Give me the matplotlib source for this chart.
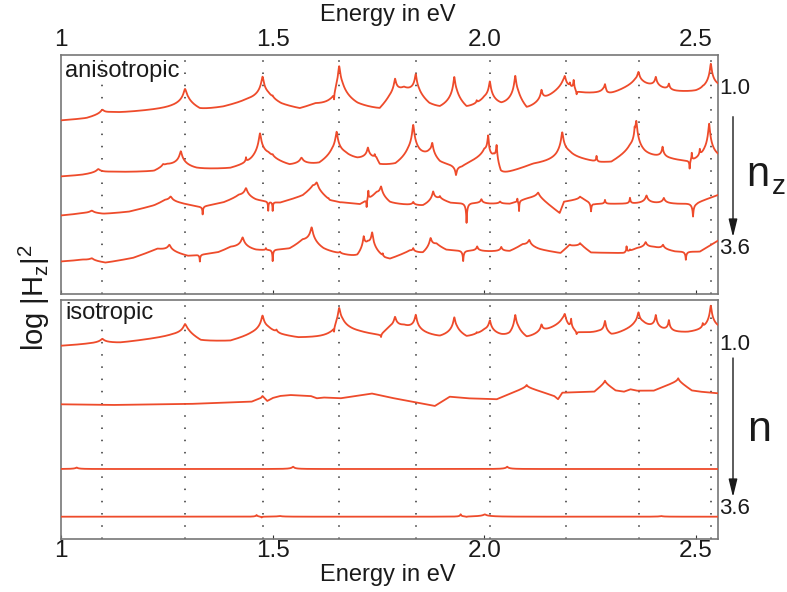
import numpy as np
import matplotlib
matplotlib.use("Agg")
import matplotlib.pyplot as plt
from matplotlib.patches import FancyArrowPatch

# ---------------------------------------------------------------------------
# Data: photon energy axis, guided-mode energies, and the four spectra of each
# panel.  Each spectrum = slowly varying background (anchor points, arbitrary
# log units incl. vertical offset) + resonances (energy, apex level, width).
# ---------------------------------------------------------------------------
E_MIN, E_MAX = 1.0, 2.552
TICK_E = [1.0, 1.5, 2.0, 2.5]
TICK_LABELS = ["1", "1.5", "2.0", "2.5"]

GUIDED_MODES = [1.0975, 1.293, 1.476, 1.656, 1.839, 2.013, 2.192, 2.365, 2.5365]

# --- anisotropic, n_z = 1.0 ... 3.6 -------------------------------------------
ANISO_1_BASE = [(1.00, 173.3), (1.06, 175), (1.116, 180), (1.262, 185), (1.30, 186),
                (1.328, 182.3), (1.383, 186), (1.44, 192), (1.49, 193), (1.52, 188),
                (1.564, 184), (1.60, 188), (1.64, 186), (1.665, 193), (1.70, 187.3),
                (1.753, 183), (1.775, 192), (1.81, 201), (1.845, 195), (1.87, 187.3),
                (1.895, 184), (1.935, 190), (1.958, 183.3), (2.00, 190), (2.04, 185.7),
                (2.08, 190), (2.10, 182.3), (2.14, 192), (2.185, 205), (2.20, 202),
                (2.22, 200), (2.28, 200), (2.29, 197.3), (2.355, 209), (2.375, 208),
                (2.41, 205), (2.44, 202), (2.50, 201.3), (2.552, 204.7)]
ANISO_1_RES = [(1.0975, 184, 0.05), (1.293, 204.7, 0.05), (1.476, 216.7, 0.04),
               (1.500, 193, 0.01), (1.645, 180, 0.004), (1.657, 227.3, 0.04),
               (1.789, 213.3, 0.03), (1.838, 218, 0.03), (1.929, 215.7, 0.03),
               (1.982, 189.5, 0.005), (2.013, 210.7, 0.03), (2.073, 216.7, 0.03),
               (2.135, 202.3, 0.02), (2.190, 216.7, 0.03), (2.202, 206, 0.008),
               (2.211, 211, 0.008), (2.218, 196, 0.005), (2.285, 209, 0.02),
               (2.364, 221.3, 0.03), (2.405, 215.7, 0.02), (2.436, 209, 0.015),
               (2.516, 203, 0.006), (2.535, 230, 0.03)]

ANISO_2_BASE = [(1.00, 117.3), (1.05, 118.5), (1.12, 121.3), (1.22, 122), (1.25, 127),
                (1.32, 124), (1.40, 124.5), (1.45, 129), (1.49, 134), (1.54, 126.7),
                (1.61, 128), (1.64, 135), (1.67, 136), (1.70, 133), (1.745, 133),
                (1.753, 127.3), (1.79, 127.3), (1.82, 134), (1.848, 134), (1.87, 135),
                (1.895, 129), (1.947, 127.3), (2.00, 137.3), (2.012, 129), (2.022, 130),
                (2.039, 118), (2.06, 121), (2.115, 129), (2.17, 132.3), (2.20, 136),
                (2.27, 130.7), (2.30, 130.7), (2.344, 141), (2.38, 137.3), (2.44, 134),
                (2.485, 130.7), (2.52, 134), (2.552, 134)]
ANISO_2_RES = [(1.088, 124.7, 0.05), (1.241, 128, 0.02), (1.283, 142.3, 0.04),
               (1.437, 132.3, 0.005), (1.470, 160, 0.04), (1.500, 134.5, 0.015),
               (1.568, 134.7, 0.04), (1.651, 161.3, 0.035), (1.725, 144.7, 0.025),
               (1.741, 136, 0.006), (1.832, 168, 0.035), (1.877, 148.3, 0.025),
               (1.933, 117.3, 0.015), (2.009, 156.7, 0.02), (2.029, 145.7, 0.015),
               (2.184, 161.3, 0.035), (2.265, 136.7, 0.005), (2.355, 147.3, 0.006),
               (2.359, 171.3, 0.03), (2.421, 145.7, 0.015), (2.485, 122.3, 0.004),
               (2.490, 139, 0.004), (2.509, 139, 0.005), (2.531, 170, 0.03)]

ANISO_3_BASE = [(1.00, 78.3), (1.05, 80), (1.10, 79.5), (1.16, 82), (1.22, 88),
                (1.245, 92), (1.28, 90), (1.33, 86.7), (1.383, 90.7), (1.42, 96),
                (1.46, 92.3), (1.517, 90.7), (1.571, 97.3), (1.595, 104), (1.635, 92.3),
                (1.706, 89), (1.745, 98), (1.777, 90), (1.855, 87.3), (1.895, 94),
                (1.92, 90.7), (1.97, 90.7), (2.013, 90), (2.06, 90), (2.10, 95),
                (2.127, 97), (2.178, 80.7), (2.188, 92), (2.23, 95), (2.26, 90),
                (2.36, 90), (2.46, 90), (2.50, 91), (2.552, 99)]
ANISO_3_RES = [(1.0725, 83.3, 0.05), (1.259, 97.3, 0.04), (1.3346, 79, 0.004),
               (1.437, 105.7, 0.04), (1.4895, 82.3, 0.003), (1.500, 82.3, 0.003),
               (1.604, 111.3, 0.04), (1.632, 94, 0.004), (1.659, 90.7, 0.01),
               (1.722, 84.7, 0.003), (1.726, 102.3, 0.004), (1.756, 107.3, 0.03),
               (1.832, 91.3, 0.015), (1.879, 102.3, 0.025), (1.895, 95.7, 0.008),
               (1.958, 70.7, 0.006), (1.993, 94.7, 0.015), (2.037, 92.3, 0.015),
               (2.078, 95.7, 0.003), (2.082, 82.3, 0.003), (2.127, 101.3, 0.03),
               (2.226, 97.3, 0.02), (2.252, 82.3, 0.006), (2.285, 94, 0.006),
               (2.344, 95.7, 0.006), (2.383, 98.3, 0.025), (2.424, 95.7, 0.02),
               (2.493, 77.3, 0.008)]

ANISO_4_BASE = [(1.00, 32.3), (1.05, 33.5), (1.105, 30.7), (1.17, 35.7), (1.227, 44),
                (1.30, 37.3), (1.37, 40.7), (1.40, 45), (1.46, 42.3), (1.54, 44),
                (1.57, 50), (1.62, 42.3), (1.70, 35.7), (1.725, 44), (1.765, 34.7),
                (1.777, 34), (1.824, 42.3), (1.855, 39), (1.887, 47.3), (1.91, 43.3),
                (2.013, 42.3), (2.06, 42.3), (2.09, 48), (2.13, 44), (2.18, 40.7),
                (2.20, 48), (2.23, 48), (2.252, 41.3), (2.33, 40.7), (2.36, 45),
                (2.40, 46), (2.45, 42.3), (2.509, 42.3), (2.552, 53.3)]
ANISO_4_RES = [(1.0725, 35.7, 0.05), (1.256, 49, 0.04), (1.328, 31.7, 0.004),
               (1.429, 56.3, 0.04), (1.484, 44.7, 0.004), (1.500, 31.7, 0.004),
               (1.592, 66.3, 0.04), (1.659, 40.7, 0.01), (1.715, 54.7, 0.02),
               (1.735, 59.7, 0.025), (1.760, 38, 0.003), (1.832, 44.7, 0.01),
               (1.873, 55.7, 0.03), (1.950, 32.3, 0.006), (1.983, 47.3, 0.015),
               (2.040, 46.7, 0.015), (2.106, 54, 0.03), (2.202, 49, 0.01),
               (2.226, 50.7, 0.015), (2.336, 47.3, 0.004), (2.344, 44, 0.004),
               (2.381, 51.7, 0.025), (2.422, 49, 0.02), (2.476, 34, 0.006)]

# --- isotropic, n = 1.0 ... 3.6 ----------------------------------------------
ISO_1_BASE = [(1.00, 193), (1.06, 194.5), (1.139, 195.7), (1.262, 202.3), (1.30, 203),
              (1.33, 197), (1.40, 197.3), (1.45, 203), (1.49, 206), (1.52, 203),
              (1.56, 200.5), (1.612, 200.7), (1.64, 201), (1.665, 208), (1.706, 205.7),
              (1.753, 202.3), (1.775, 208), (1.81, 210), (1.845, 205), (1.895, 200.7),
              (1.935, 204), (1.958, 200), (2.00, 205), (2.04, 201), (2.06, 199.7),
              (2.08, 203), (2.10, 199), (2.14, 206), (2.185, 214), (2.20, 208),
              (2.22, 205), (2.27, 205.7), (2.30, 202.3), (2.355, 210.7), (2.375, 212),
              (2.41, 208), (2.44, 206), (2.48, 205.7), (2.552, 208.3)]
ISO_1_RES = [(1.0975, 200, 0.05), (1.293, 214.7, 0.05), (1.476, 223, 0.04),
             (1.509, 206.5, 0.01), (1.645, 197.3, 0.004), (1.657, 230.7, 0.04),
             (1.756, 199.7, 0.005), (1.789, 220.7, 0.03), (1.838, 223, 0.03),
             (1.929, 220.7, 0.03), (1.982, 204, 0.005), (2.013, 217.3, 0.03),
             (2.073, 223, 0.03), (2.135, 213, 0.02), (2.190, 224, 0.03),
             (2.205, 216.7, 0.008), (2.218, 202.3, 0.005), (2.285, 217.3, 0.02),
             (2.364, 225.7, 0.03), (2.405, 222.3, 0.02), (2.436, 217.3, 0.015),
             (2.516, 210.7, 0.006), (2.535, 233, 0.03)]

ISO_2_BASE = [(1.00, 134.7), (1.116, 134), (1.30, 135), (1.45, 137.3), (1.472, 141),
              (1.476, 143), (1.487, 138), (1.50, 141), (1.517, 143), (1.541, 144),
              (1.59, 143), (1.604, 140.7), (1.62, 141.5), (1.66, 140.7), (1.734, 145.5),
              (1.777, 141.5), (1.883, 133), (1.918, 142.3), (1.96, 140.7),
              (2.029, 139.7), (2.10, 152), (2.165, 143), (2.174, 139.7), (2.184, 146.3),
              (2.26, 147.3), (2.285, 156), (2.31, 148.5), (2.33, 147.3), (2.345, 149.7),
              (2.36, 148.3), (2.40, 148.3), (2.458, 158), (2.49, 148.5), (2.51, 147.3),
              (2.552, 145.7)]
ISO_2_RES = [(2.100, 154, 0.015), (2.285, 158.3, 0.015), (2.458, 160.7, 0.015)]

ISO_3_BASE = [(1.00, 70), (2.552, 70)]
ISO_3_RES = [(1.037, 71.5, 0.02), (1.548, 72.3, 0.02), (2.054, 72.3, 0.02)]

ISO_4_BASE = [(1.00, 22.3), (2.552, 22.3)]
ISO_4_RES = [(1.462, 24, 0.01), (1.474, 21.3, 0.006), (1.517, 23, 0.03),
             (1.944, 24.6, 0.008), (1.958, 21.7, 0.006), (2.001, 24.6, 0.04),
             (2.418, 23, 0.02)]

TOP_CURVES = [(ANISO_1_BASE, ANISO_1_RES), (ANISO_2_BASE, ANISO_2_RES),
              (ANISO_3_BASE, ANISO_3_RES), (ANISO_4_BASE, ANISO_4_RES)]
BOTTOM_CURVES = [(ISO_1_BASE, ISO_1_RES), (ISO_2_BASE, ISO_2_RES),
                 (ISO_3_BASE, ISO_3_RES), (ISO_4_BASE, ISO_4_RES)]

# ---------------------------------------------------------------------------
LINE_COLOR = "#EE4B2B"
FONT = ["Liberation Sans", "DejaVu Sans"]
INK = "#1a1a1a"

W, H = 787, 592


def spectrum(base, res, energy):
    """Background (linear between anchors) plus log-Lorentzian resonances."""
    be, bv = np.array(base, dtype=float).T
    y = np.interp(energy, be, bv)
    norm = np.log1p(625.0)
    for e0, apex, w in res:
        g = w / 25.0
        h = apex - np.interp(e0, be, bv)
        r2 = (energy - e0) ** 2 + g * g
        y = y + h * np.log1p(w * w / r2) / norm
    return y


def fx(px):
    return px / W


def fy(py):
    return 1 - py / H


fig = plt.figure(figsize=(W / 100, H / 100), dpi=100)
ax_top = fig.add_axes([fx(61), fy(294), (718 - 61) / W, 239 / H])
ax_bot = fig.add_axes([fx(61), fy(539), (718 - 61) / W, 239 / H])

for ax, curves in ((ax_top, TOP_CURVES), (ax_bot, BOTTOM_CURVES)):
    res_e = [r[0] for _, rs in curves for r in rs]
    energy = np.unique(np.concatenate([np.linspace(E_MIN, E_MAX, 9000), res_e]))
    for base, res in curves:
        ax.plot(energy, spectrum(base, res, energy), color=LINE_COLOR,
                lw=1.3, solid_joinstyle="round", zorder=3)
    for e in GUIDED_MODES:
        ax.axvline(e, color="#333333", lw=1.1, ls=(0, (1, 7.0)), zorder=1)
    ax.set_xlim(E_MIN, E_MAX)
    ax.set_ylim(0, 239)
    ax.set_yticks([])
    ax.set_xticks(TICK_E)
    ax.set_xticklabels(TICK_LABELS)
    for sp in ax.spines.values():
        sp.set_color("#777777")
        sp.set_linewidth(1.2)
    ax.tick_params(axis="x", direction="in", length=3, width=0.8, color="#333333",
                   labelsize=17.5, labelcolor=INK, labelfontfamily=FONT)

ax_top.tick_params(axis="x", top=False, bottom=True, labeltop=True,
                   labelbottom=False, pad=3.0)
ax_bot.tick_params(axis="x", top=False, bottom=True, labelbottom=True, pad=1.0)

# axis titles
fig.text(fx(388), fy(21), "Energy in eV", ha="center", va="baseline",
         fontsize=17, family=FONT, color=INK)
fig.text(fx(388), fy(581), "Energy in eV", ha="center", va="baseline",
         fontsize=17, family=FONT, color=INK)
fig.text(fx(34), fy(298), r"log |H$_\mathregular{z}$|$^\mathregular{2}$",
         rotation=90, ha="center", va="center", fontsize=21, family=FONT,
         color=INK)

# panel names
fig.text(fx(65), fy(77), "anisotropic", ha="left", va="baseline",
         fontsize=17, family=FONT, color=INK)
fig.text(fx(65), fy(319), "isotropic", ha="left", va="baseline",
         fontsize=17, family=FONT, color=INK)

# refractive-index sweep annotations
for label, ypx in (("1.0", 89), ("3.6", 249), ("1.0", 344), ("3.6", 509)):
    fig.text(fx(719), fy(ypx), label, ha="left", va="center", fontsize=16,
             family=FONT, color=INK)
fig.text(fx(746), fy(186), "n", ha="left", va="baseline",
         fontsize=30, family=FONT, color=INK)
fig.text(fx(772), fy(194), "z", ha="left", va="baseline",
         fontsize=20, family=FONT, color=INK)
fig.text(fx(747), fy(441), "n", ha="left", va="baseline",
         fontsize=31, family=FONT, color=INK)
for y0, y1 in ((116.7, 237), (358, 497)):
    fig.add_artist(FancyArrowPatch((fx(733), fy(y0)), (fx(733), fy(y1)),
                                   transform=fig.transFigure,
                                   arrowstyle="-|>,head_length=0.9,head_width=0.22",
                                   mutation_scale=12, lw=1.0, color=INK,
                                   shrinkA=0, shrinkB=0))

fig.savefig("out.png", dpi=100)
